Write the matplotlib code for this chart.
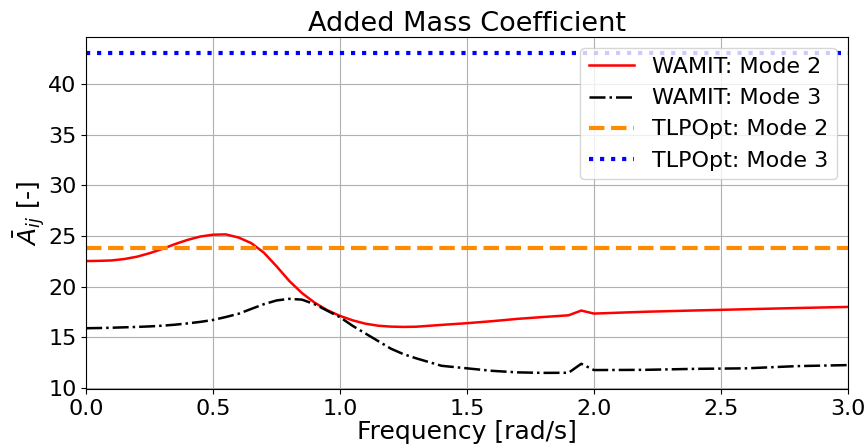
import numpy as np
import matplotlib
matplotlib.use('Agg')
import matplotlib.pyplot as plt

# frequencies [rad/s]
freq = [0.0, 0.05, 0.1, 0.15, 0.2, 0.25, 0.3, 0.35, 0.4, 0.45, 0.5, 0.55,
        0.6, 0.65, 0.7, 0.75, 0.8, 0.85, 0.9, 0.95, 1.0, 1.05, 1.1, 1.15,
        1.2, 1.25, 1.3, 1.4, 1.5, 1.6, 1.7, 1.8, 1.9, 1.95, 2.0, 2.2, 2.4,
        2.6, 2.8, 3.0]

# WAMIT added mass, mode 2 and mode 3
wamit_mode2 = [22.52, 22.54, 22.58, 22.72, 22.95, 23.3, 23.72, 24.2, 24.62,
               24.95, 25.13, 25.16, 24.85, 24.3, 23.35, 22.0, 20.55, 19.35,
               18.4, 17.65, 17.09, 16.65, 16.32, 16.12, 16.03, 16.0, 16.02,
               16.2, 16.37, 16.57, 16.8, 16.98, 17.15, 17.62, 17.32, 17.5,
               17.63, 17.75, 17.87, 17.98]
wamit_mode3 = [15.87, 15.89, 15.92, 15.96, 16.0, 16.05, 16.12, 16.22, 16.35,
               16.5, 16.69, 16.98, 17.3, 17.78, 18.25, 18.62, 18.78, 18.7,
               18.25, 17.6, 16.96, 16.1, 15.35, 14.6, 13.85, 13.3, 12.89,
               12.15, 11.9, 11.65, 11.5, 11.45, 11.46, 12.35, 11.73, 11.75,
               11.85, 11.9, 12.12, 12.22]

# TLPOpt constant values
tlpopt_mode2 = 23.8
tlpopt_mode3 = 43.1

plt.rcParams['font.size'] = 16

fig, ax = plt.subplots(figsize=(8.66, 4.48), dpi=100)
ax.plot(freq, wamit_mode2, color='red', linestyle='-', linewidth=1.8, label='WAMIT: Mode 2')
ax.plot(freq, wamit_mode3, color='black', linestyle='-.', linewidth=1.8, label='WAMIT: Mode 3')
ax.plot(freq, np.full(len(freq), tlpopt_mode2), color='darkorange', linestyle='--',
        linewidth=3, label='TLPOpt: Mode 2')
ax.plot(freq, np.full(len(freq), tlpopt_mode3), color='blue', linestyle=':',
        linewidth=3, label='TLPOpt: Mode 3')

ax.set_xlim(0, 3.0)
ax.set_xlabel('Frequency [rad/s]', fontsize=18, labelpad=1)
ax.set_ylabel(r'$\bar{A}_{ij}$ [-]', fontsize=18, labelpad=1)
ax.set_title('Added Mass Coefficient', fontsize=19.5, pad=4)
ax.grid(True)
ax.legend(loc='upper right', fontsize=16)

fig.subplots_adjust(left=0.0995, right=0.979, top=0.917, bottom=0.132)
fig.savefig('out.png')
